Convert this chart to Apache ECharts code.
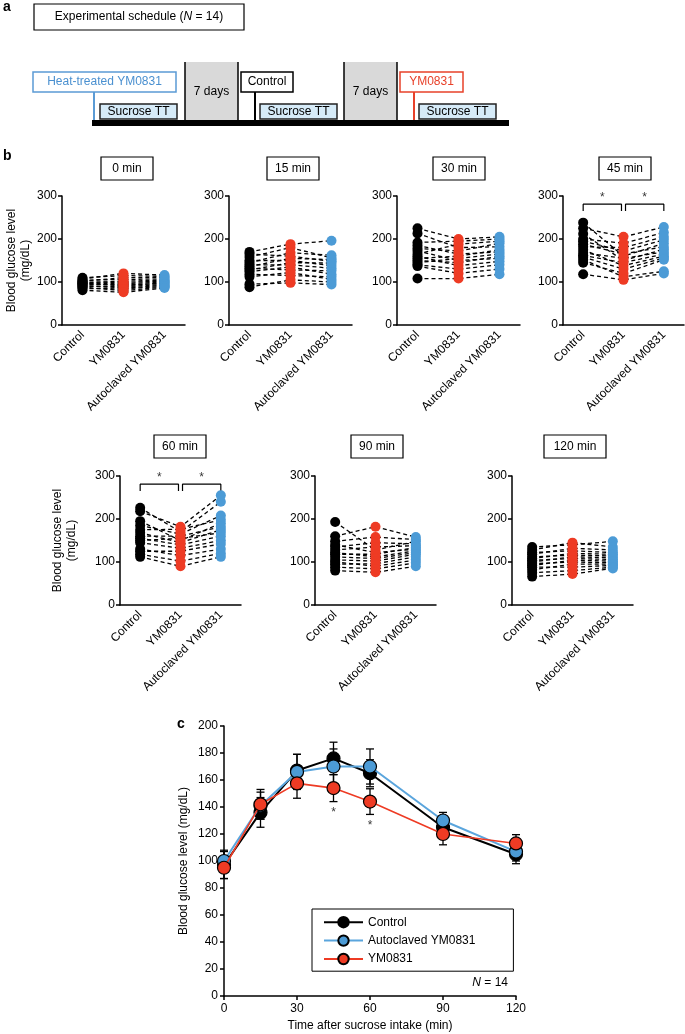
<!DOCTYPE html>
<html lang="en">
<head>
<meta charset="UTF-8" />
<title>Blood glucose after sucrose intake</title>
<script src="https://cdn.jsdelivr.net/npm/echarts@6/dist/echarts.min.js"></script>
<style>
  * { margin: 0; padding: 0; box-sizing: border-box; }
  body { background: #fff; overflow: hidden; }
  #chart { width: 685px; height: 1034px; }
</style>
</head>
<body>
<div id="chart"></div>
<script>
const FONT = "'Liberation Sans', Arial, sans-serif";
const BLACK = '#000';
const RED = '#ee3b24';
const BLUE = '#4c9bd6';

// ---- panel b: individual values (14 subjects, one row per time point) ----
const groups = ['Control', 'YM0831', 'Autoclaved YM0831'];
const times = ['0 min', '15 min', '30 min', '45 min', '60 min', '90 min', '120 min'];

const ctlVals = [
  [110, 107, 104, 102, 100, 98, 97, 96, 94, 92, 90, 88, 85, 81],
  [170, 165, 158, 150, 145, 140, 136, 132, 128, 124, 118, 112, 95, 88],
  [225, 213, 192, 185, 178, 172, 165, 160, 155, 150, 145, 140, 137, 108],
  [238, 225, 212, 200, 195, 188, 182, 175, 168, 162, 158, 152, 145, 118],
  [226, 218, 195, 185, 175, 168, 160, 155, 150, 145, 130, 125, 118, 112],
  [193, 160, 148, 140, 135, 128, 122, 118, 112, 105, 100, 95, 88, 80],
  [135, 128, 122, 118, 112, 108, 104, 100, 96, 92, 88, 82, 75, 66]
];
const ymVals = [
  [115, 120, 106, 110, 99, 102, 91, 96, 94, 86, 89, 80, 84, 76],
  [188, 160, 180, 150, 168, 140, 155, 128, 145, 135, 115, 122, 98, 105],
  [200, 180, 195, 165, 172, 150, 188, 138, 160, 145, 155, 130, 120, 108],
  [160, 205, 150, 190, 172, 165, 180, 138, 155, 145, 130, 112, 120, 105],
  [170, 182, 150, 165, 176, 145, 160, 140, 155, 132, 115, 125, 102, 90],
  [128, 182, 158, 122, 145, 135, 112, 118, 108, 102, 90, 96, 84, 76],
  [140, 145, 126, 132, 116, 120, 108, 112, 100, 104, 88, 95, 80, 72]
];
const autoVals = [
  [113, 116, 107, 110, 102, 104, 98, 100, 96, 92, 94, 88, 90, 86],
  [196, 148, 156, 138, 162, 132, 152, 126, 144, 118, 112, 106, 94, 100],
  [205, 182, 200, 170, 190, 155, 195, 148, 175, 160, 165, 140, 130, 118],
  [190, 228, 176, 215, 198, 182, 205, 160, 170, 165, 156, 125, 152, 120],
  [240, 255, 190, 208, 198, 175, 182, 160, 168, 150, 130, 142, 120, 112],
  [148, 158, 152, 130, 142, 138, 126, 134, 122, 118, 105, 112, 98, 90],
  [148, 135, 122, 128, 114, 118, 106, 110, 98, 102, 92, 95, 88, 85]
];
const sigTimes = ['45 min', '60 min'];

// ---- panel c: mean and error per time ----
const cTimes = [0, 15, 30, 45, 60, 90, 120];
const cControl = [97, 136, 167, 176, 165, 125, 105];
const cControlErr = [10, 11, 12, 12, 10, 7, 7];
const cAuto = [100, 141, 166, 170, 170, 130, 107];
const cAutoErr = [8, 10, 13, 13, 13, 6, 7];
const cYM = [95, 142, 157.5, 154, 144, 120, 113];
const cYMErr = [8, 11, 11, 10, 9.5, 8, 6.5];
const cStarTimes = [45, 60];

// layout of the small plots
const panels = [
  { left: 62, top: 196, width: 123, boxX: 127 },
  { left: 229, top: 196, width: 123, boxX: 293 },
  { left: 397, top: 196, width: 123, boxX: 459 },
  { left: 563, top: 196, width: 121, boxX: 625 },
  { left: 120, top: 476, width: 121, boxX: 180 },
  { left: 315, top: 476, width: 121, boxX: 377 },
  { left: 512, top: 476, width: 121, boxX: 575 }
];

const grid = [], xAxis = [], yAxis = [], series = [];
const graphic = [];

function txt(x, y, text, opts) {
  return Object.assign({
    type: 'text', x: x, y: y,
    style: { text: text, font: '12px ' + FONT, fill: BLACK, align: 'center', verticalAlign: 'middle' }
  }, opts || {});
}

times.forEach((t, i) => {
  const p = panels[i];
  grid.push({ left: p.left, top: p.top, width: p.width, height: 129 });
  xAxis.push({
    type: 'category', gridIndex: i, data: groups,
    axisLine: { onZero: false, lineStyle: { color: BLACK, width: 1.5 } },
    axisTick: { alignWithLabel: true, length: 4, lineStyle: { color: BLACK, width: 1.5 } },
    axisLabel: { rotate: 45, fontSize: 12, color: BLACK, fontFamily: FONT, margin: 8 }
  });
  xAxis.push({ type: 'value', gridIndex: i, min: -0.5, max: 2.5, show: false, axisLine: { onZero: false } });
  const firstInRow = i === 0 || i === 4;
  yAxis.push({
    type: 'value', gridIndex: i, min: 0, max: 300, interval: 100,
    splitLine: { show: false },
    axisLine: { show: true, onZero: false, lineStyle: { color: BLACK, width: 1.5 } },
    axisTick: { show: true, length: 4, lineStyle: { color: BLACK, width: 1.5 } },
    axisLabel: { fontSize: 12, color: BLACK, fontFamily: FONT, margin: 5 },
    name: firstInRow ? 'Blood glucose level\n(mg/dL)' : '',
    nameLocation: 'middle', nameGap: i === 0 ? 28 : 41,
    nameTextStyle: { fontSize: 12, color: BLACK, fontFamily: FONT, lineHeight: 14 }
  });

  // dashed line for each subject
  for (let s = 0; s < ctlVals[i].length; s++) {
    series.push({
      type: 'line', xAxisIndex: 2 * i, yAxisIndex: i, silent: true,
      data: [ctlVals[i][s], ymVals[i][s], autoVals[i][s]],
      symbol: 'none', z: 2,
      lineStyle: { color: BLACK, width: 1.3, type: [4, 3] }
    });
  }
  [[ctlVals, BLACK], [ymVals, RED], [autoVals, BLUE]].forEach(([vals, col], g) => {
    series.push({
      type: 'scatter', xAxisIndex: 2 * i, yAxisIndex: i, silent: true, z: 3,
      data: vals[i].map(v => [g, v]),
      symbolSize: 10, itemStyle: { color: col, opacity: 1 }
    });
  });

  if (sigTimes.includes(t)) {
    const brackets = [
      [[0, 265], [0, 281], [0.95, 281], [0.95, 265]],
      [[1.05, 265], [1.05, 281], [2, 281], [2, 265]]
    ];
    brackets.forEach(b => {
      series.push({
        type: 'line', xAxisIndex: 2 * i + 1, yAxisIndex: i, silent: true, clip: false,
        data: b, symbol: 'none', lineStyle: { color: BLACK, width: 1.2 }
      });
    });
    series.push({
      type: 'scatter', xAxisIndex: 2 * i + 1, yAxisIndex: i, silent: true, clip: false,
      data: [[0.475, 296], [1.525, 296]], symbolSize: 1,
      itemStyle: { color: 'rgba(0,0,0,0)' },
      label: { show: true, position: 'inside', formatter: '*', fontSize: 12, color: BLACK, fontFamily: FONT }
    });
  }

  // title box
  const bw = t.length > 6 ? 62 : 52;
  const by = i < 4 ? 157 : 435;
  graphic.push({ type: 'rect', shape: { x: p.boxX - bw / 2, y: by, width: bw, height: 23 },
    style: { fill: '#fff', stroke: BLACK, lineWidth: 1.2 } });
  graphic.push(txt(p.boxX, by + 11.5, t));
});

// ---- panel c ----
const C = 7;
grid.push({ left: 224, top: 726, width: 292, height: 270 });
xAxis.push({
  type: 'value', gridIndex: C, min: 0, max: 120, interval: 30,
  splitLine: { show: false },
  axisLine: { onZero: false, lineStyle: { color: BLACK, width: 1.5 } },
  axisTick: { length: 4, lineStyle: { color: BLACK, width: 1.5 } },
  axisLabel: { fontSize: 12, color: BLACK, fontFamily: FONT, margin: 7 },
  name: 'Time after sucrose intake (min)', nameLocation: 'middle', nameGap: 24,
  nameTextStyle: { fontSize: 12, color: BLACK, fontFamily: FONT }
});
yAxis.push({
  type: 'value', gridIndex: C, min: 0, max: 200, interval: 20,
  splitLine: { show: false },
  axisLine: { show: true, onZero: false, lineStyle: { color: BLACK, width: 1.5 } },
  axisTick: { show: true, length: 4, lineStyle: { color: BLACK, width: 1.5 } },
  axisLabel: { fontSize: 12, color: BLACK, fontFamily: FONT, margin: 6 },
  name: 'Blood glucose level (mg/dL)', nameLocation: 'middle', nameGap: 34,
  nameTextStyle: { fontSize: 12, color: BLACK, fontFamily: FONT }
});

function errorBars(means, errs) {
  return {
    type: 'custom', xAxisIndex: 14, yAxisIndex: C, silent: true, z: 1,
    encode: { x: 0, y: [1, 2] },
    data: cTimes.map((x, k) => [x, means[k] - errs[k], means[k] + errs[k]]),
    renderItem: (params, api) => {
      const lo = api.coord([api.value(0), api.value(1)]);
      const hi = api.coord([api.value(0), api.value(2)]);
      const st = { stroke: BLACK, lineWidth: 1.3 };
      return {
        type: 'group',
        children: [
          { type: 'line', shape: { x1: lo[0], y1: lo[1], x2: hi[0], y2: hi[1] }, style: st },
          { type: 'line', shape: { x1: hi[0] - 4, y1: hi[1], x2: hi[0] + 4, y2: hi[1] }, style: st },
          { type: 'line', shape: { x1: lo[0] - 4, y1: lo[1], x2: lo[0] + 4, y2: lo[1] }, style: st }
        ]
      };
    }
  };
}

[[cControlErr, cControl], [cAutoErr, cAuto], [cYMErr, cYM]].forEach(([e, m]) => series.push(errorBars(m, e)));

[['Control', cControl, BLACK, 2], ['Autoclaved YM0831', cAuto, '#5aa5dd', 2], ['YM0831', cYM, RED, 1.6]].forEach(([name, vals, col, w], k) => {
  series.push({
    name: name, type: 'line', xAxisIndex: 14, yAxisIndex: C, z: 4 + k,
    data: cTimes.map((x, j) => [x, vals[j]]),
    symbol: 'circle', symbolSize: 13,
    lineStyle: { color: col, width: w },
    itemStyle: { color: name === 'Autoclaved YM0831' ? BLUE : col, borderColor: BLACK, borderWidth: 1.2 }
  });
});

series.push({
  type: 'scatter', xAxisIndex: 14, yAxisIndex: C, silent: true,
  data: cStarTimes.map(x => { const j = cTimes.indexOf(x); return [x, cYM[j] - cYMErr[j] - 8]; }),
  symbolSize: 1, itemStyle: { color: 'rgba(0,0,0,0)' },
  label: { show: true, position: 'inside', formatter: '*', fontSize: 12, color: BLACK, fontFamily: FONT }
});

// ---- panel labels ----
['a', 'b', 'c'].forEach((l, k) => {
  const pos = [[3, 7], [3, 156], [177, 724]][k];
  graphic.push({ type: 'text', x: pos[0], y: pos[1],
    style: { text: l, font: 'bold 14px ' + FONT, fill: BLACK, verticalAlign: 'middle' } });
});

// N = 14 in panel c
graphic.push({ type: 'text', x: 508, y: 983,
  style: { text: '{i|N} = 14', font: '12px ' + FONT, fill: BLACK, align: 'right', verticalAlign: 'middle',
    rich: { i: { fontStyle: 'italic', fontSize: 12, fontFamily: FONT } } } });

// ---- panel a: schedule diagram ----
graphic.push({ type: 'rect', shape: { x: 34, y: 4, width: 210, height: 26 },
  style: { fill: '#fff', stroke: BLACK, lineWidth: 1.2 } });
graphic.push({ type: 'text', x: 139, y: 17,
  style: { text: 'Experimental schedule ({i|N} = 14)', font: '12px ' + FONT, fill: BLACK,
    align: 'center', verticalAlign: 'middle',
    rich: { i: { fontStyle: 'italic', fontSize: 12, fontFamily: FONT } } } });

// treatment boxes
[['Heat-treated YM0831', 33, 143, 94, '#5b9bd5', '#4a90d0'],
 ['Control', 241, 52, 255, BLACK, BLACK],
 ['YM0831', 400, 63, 414, '#e8412a', '#e8412a']].forEach(([label, x, w, lx, stroke, fill]) => {
  graphic.push({ type: 'line', shape: { x1: lx, y1: 92, x2: lx, y2: 121 }, style: { stroke: stroke, lineWidth: 2 } });
  graphic.push({ type: 'rect', shape: { x: x, y: 72, width: w, height: 20 },
    style: { fill: '#fff', stroke: stroke, lineWidth: 1.5 } });
  graphic.push(txt(x + w / 2, 82, label, {}));
  graphic[graphic.length - 1].style.fill = fill;
});
// sucrose tolerance tests
[100, 260, 419].forEach(x => {
  graphic.push({ type: 'rect', shape: { x: x, y: 104, width: 77, height: 15 },
    style: { fill: '#d6ebf8', stroke: '#222', lineWidth: 1.5 } });
  graphic.push(txt(x + 38.5, 111.5, 'Sucrose TT'));
});
// washout periods
[185, 344].forEach(x => {
  graphic.push({ type: 'rect', shape: { x: x, y: 62, width: 53, height: 59 }, style: { fill: '#d9d9d9' } });
  graphic.push({ type: 'line', shape: { x1: x, y1: 62, x2: x, y2: 121 }, style: { stroke: BLACK, lineWidth: 1.5 } });
  graphic.push({ type: 'line', shape: { x1: x + 53, y1: 62, x2: x + 53, y2: 121 }, style: { stroke: BLACK, lineWidth: 1.5 } });
  graphic.push(txt(x + 26.5, 92, '7 days'));
});
graphic.push({ type: 'rect', shape: { x: 92, y: 120, width: 417, height: 6 }, style: { fill: BLACK } });

const myChart = echarts.init(document.getElementById('chart'), null, { renderer: 'canvas' });
myChart.setOption({
  animation: false,
  backgroundColor: '#fff',
  textStyle: { fontFamily: FONT },
  grid: grid,
  xAxis: xAxis,
  yAxis: yAxis,
  legend: {
    data: ['Control', 'Autoclaved YM0831', 'YM0831'],
    orient: 'vertical', left: 312, top: 909,
    borderColor: BLACK, borderWidth: 1, padding: [7, 38, 6, 11],
    itemGap: 6, itemWidth: 39, itemHeight: 13,
    textStyle: { fontSize: 12, color: BLACK, fontFamily: FONT }
  },
  series: series,
  graphic: graphic
});
</script>
</body>
</html>
